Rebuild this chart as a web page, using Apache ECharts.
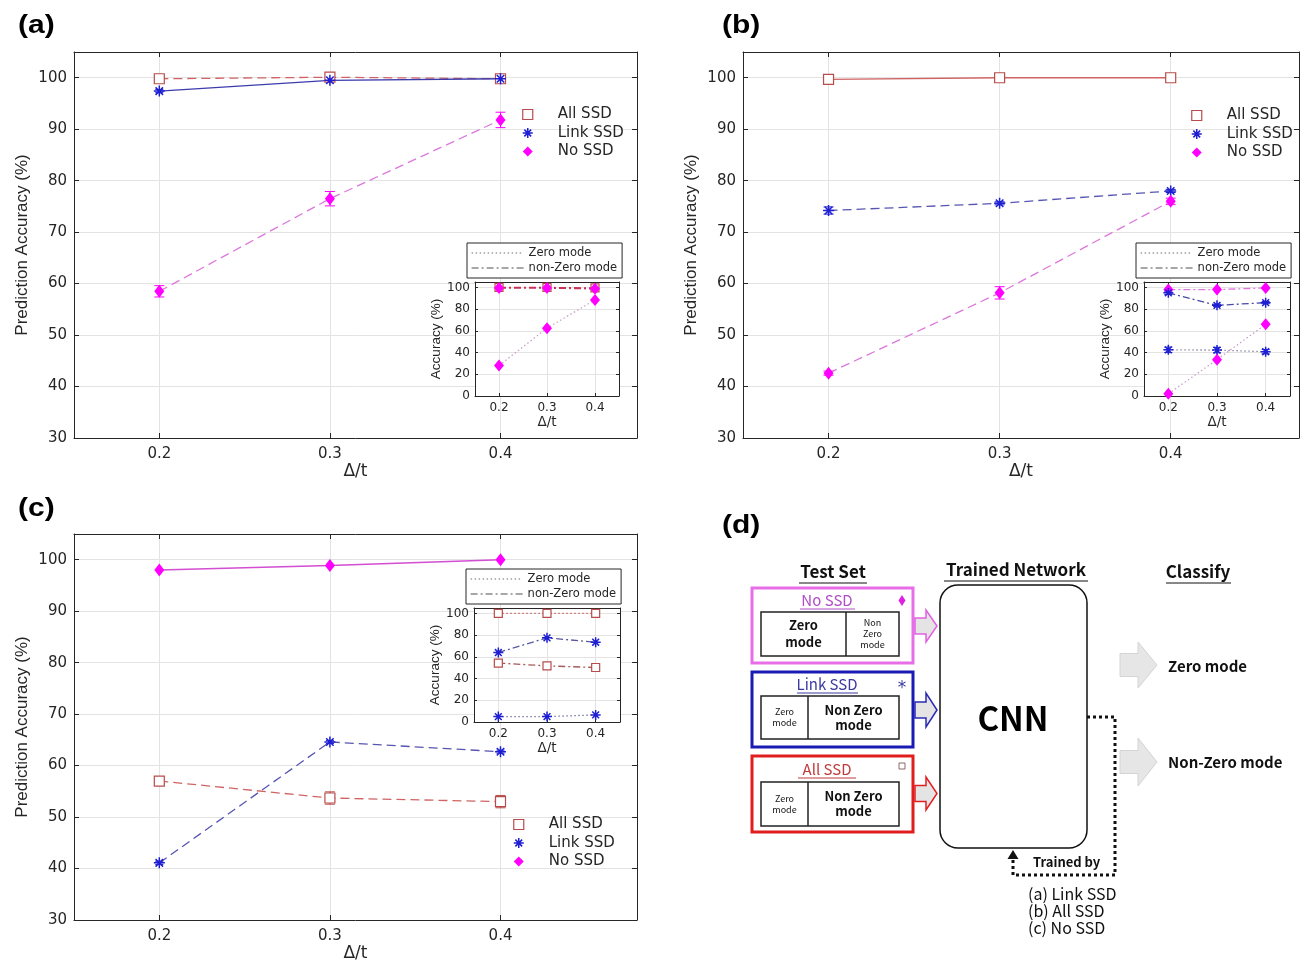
<!DOCTYPE html>
<html><head><meta charset="utf-8">
<script src="https://cdn.jsdelivr.net/npm/echarts@6/dist/echarts.min.js"></script>
<style>html,body{margin:0;padding:0;background:#fff}#chart{width:1314px;height:965px}</style>
</head><body><div id="chart"></div>
<script>
// ---------------- data ----------------
const xValues = [0.2, 0.3, 0.4];
const xTickLabels = ['0.2', '0.3', '0.4'];
const seriesNames = ['All SSD', 'Link SSD', 'No SSD'];
const insetLegendNames = ['Zero mode', 'non-Zero mode'];

// (a) trained by Link SSD
const aAllSSD = [99.8, 100.1, 99.8];
const aAllSSDErr = [0.2, 0.2, 0.2];
const aLinkSSD = [97.4, 99.5, 99.8];
const aLinkSSDErr = [0.3, 0.3, 0.2];
const aNoSSD = [58.5, 76.5, 91.8];
const aNoSSDErr = [1.1, 1.4, 1.5];
const aInAllNonZero = [100, 100, 99.5];
const aInNoSSDNonZero = [99.5, 99.5, 98.8];
const aInNoSSDZero = [28, 62.5, 88.5];

// (b) trained by All SSD
const bAllSSD = [99.7, 100, 100];
const bAllSSDErr = [0.2, 0.2, 0.2];
const bLinkSSD = [74.2, 75.6, 78.0];
const bLinkSSDErr = [0.7, 0.3, 0.3];
const bNoSSD = [42.6, 58.2, 76.0];
const bNoSSDErr = [0.4, 1.2, 0.6];
const bInNoSSDNonZero = [98, 98, 99.5];
const bInLinkNonZero = [95, 83.5, 86];
const bInLinkNonZeroErr = [1.5, 1.0, 1.0];
const bInLinkZero = [42.5, 42.3, 40.8];
const bInLinkZeroErr = [2.5, 2.5, 2.0];
const bInNoSSDZero = [2, 33.5, 66];

// (c) trained by No SSD
const cAllSSD = [57.0, 53.7, 53.0];
const cAllSSDErr = [0.5, 1.2, 1.2];
const cLinkSSD = [41.1, 64.6, 62.7];
const cLinkSSDErr = [0.3, 0.3, 0.3];
const cNoSSD = [98.0, 98.9, 100];
const cInAllZero = [100, 100, 100];
const cInLinkNonZero = [64, 77.5, 73.5];
const cInAllNonZero = [54.3, 51.7, 50.2];
const cInAllNonZeroErr = [1.5, 1.5, 1.5];
const cInLinkZero = [5, 5, 6.5];

// ---------------- styles ----------------
const FONT = 'DejaVu Sans, Liberation Sans, Arial, sans-serif';
const FONT_V = 'Liberation Sans, Arial, sans-serif';
const DIAG = '"Noto Sans CJK KR", "Noto Sans", sans-serif';
const INK = '#262626';
const RED = '#b84c4c', RED_LINE = '#d06464';
const BLUE = '#1e1ed2', BLUE_LINE_SOLID = '#3c3cae', BLUE_LINE = '#5656b2';
const MAG = '#ff00ff', MAG_LINE = '#dc78dc', MAG_LINE_SOLID = '#d24ed2';
const DASH = [9, 5], DOT = [1.5, 2.5], DASHDOT = [7, 3, 2, 3];
const ASTER = 'path://M0 5L10 5M5 0L5 10M1.6 1.6L8.4 8.4M8.4 1.6L1.6 8.4';

const sq = (c) => ({ color: '#fff', borderColor: c, borderWidth: 1.2 });
const ast = (c) => ({ color: c, borderColor: c, borderWidth: 1.5 });
const dia = (c) => ({ color: c, borderWidth: 0 });

const grids = [], xAxes = [], yAxes = [], series = [], legends = [];

function addAxes(rect, cfg) {
  const gi = grids.length;
  const z = cfg.z || 0;
  grids.push({ left: rect[0], top: rect[1], width: rect[2], height: rect[3], containLabel: false,
    outerBoundsMode: 'none', show: true, backgroundColor: '#fff', borderWidth: 0, z: z });
  const lc = { color: INK, width: 1 };
  const xi = xAxes.length;
  xAxes.push({
    type: 'value', gridIndex: gi, min: cfg.xmin, max: cfg.xmax, position: 'bottom', z: z,
    axisLine: { show: true, onZero: false, lineStyle: lc },
    axisTick: { show: true, inside: true, length: cfg.tickLen, customValues: xValues, lineStyle: lc },
    axisLabel: { show: true, customValues: xValues, margin: cfg.xLabelMargin, color: INK, fontSize: cfg.tickFont,
      fontFamily: FONT, formatter: v => { const i = xValues.indexOf(v); return i >= 0 ? xTickLabels[i] : v.toFixed(1); } },
    splitLine: { show: true, lineStyle: { color: '#e3e3e3', width: 1 } },
    name: 'Δ/t', nameLocation: 'middle', nameGap: cfg.xNameGap,
    nameTextStyle: { color: INK, fontSize: cfg.xNameFont, fontFamily: FONT }
  });
  xAxes.push({
    type: 'value', gridIndex: gi, min: cfg.xmin, max: cfg.xmax, position: 'top', z: z,
    axisLine: { show: true, onZero: false, lineStyle: lc },
    axisTick: { show: true, inside: true, length: cfg.tickLen, customValues: xValues, lineStyle: lc },
    axisLabel: { show: false }, splitLine: { show: false }
  });
  const yi = yAxes.length;
  yAxes.push({
    type: 'value', gridIndex: gi, min: cfg.ymin, max: cfg.ymax, interval: cfg.yint, position: 'left', z: z,
    axisLine: { show: true, onZero: false, lineStyle: lc },
    axisTick: { show: true, inside: true, length: cfg.tickLen, lineStyle: lc },
    axisLabel: { show: true, showMaxLabel: false, margin: cfg.yLabelMargin, color: INK, fontSize: cfg.tickFont, fontFamily: FONT },
    splitLine: { show: true, lineStyle: { color: '#e3e3e3', width: 1 } },
    name: cfg.yName, nameLocation: 'middle', nameRotate: 90, nameGap: cfg.yNameGap,
    nameTextStyle: { color: INK, fontSize: cfg.yNameFont, fontFamily: FONT_V }
  });
  yAxes.push({
    type: 'value', gridIndex: gi, min: cfg.ymin, max: cfg.ymax, interval: cfg.yint, position: 'right', z: z,
    axisLine: { show: true, onZero: false, lineStyle: lc },
    axisTick: { show: true, inside: true, length: cfg.tickLen, lineStyle: lc },
    axisLabel: { show: false }, splitLine: { show: false }
  });
  return { x: xi, y: yi };
}

function line(ax, name, vals, o) {
  series.push({
    type: 'line', name: name, xAxisIndex: ax.x, yAxisIndex: ax.y,
    data: xValues.map((x, i) => [x, vals[i]]),
    symbol: o.symbol, symbolSize: o.size, symbolKeepAspect: false, showSymbol: true, z: o.z || 2,
    lineStyle: { color: o.lineColor, width: o.lineWidth || 1.3, type: o.dash || 'solid' },
    itemStyle: o.itemStyle, emphasis: { disabled: true }, silent: true
  });
}

function errBars(ax, vals, errs, color, cap, z) {
  series.push({
    type: 'custom', xAxisIndex: ax.x, yAxisIndex: ax.y, z: z || 2, silent: true,
    data: xValues.map((x, i) => [x, vals[i] - errs[i], vals[i] + errs[i]]),
    encode: { x: 0, y: [1, 2] },
    renderItem: function (params, api) {
      const x = api.value(0);
      const lo = api.coord([x, api.value(1)]), hi = api.coord([x, api.value(2)]);
      const st = { stroke: color, lineWidth: 1 };
      return { type: 'group', children: [
        { type: 'line', shape: { x1: lo[0], y1: lo[1], x2: hi[0], y2: hi[1] }, style: st },
        { type: 'line', shape: { x1: lo[0] - cap, y1: lo[1], x2: lo[0] + cap, y2: lo[1] }, style: st },
        { type: 'line', shape: { x1: hi[0] - cap, y1: hi[1], x2: hi[0] + cap, y2: hi[1] }, style: st }
      ] };
    }
  });
}

function dummies(ax) {
  insetLegendNames.forEach(n => series.push({ type: 'line', name: n, xAxisIndex: ax.x, yAxisIndex: ax.y,
    data: [], symbol: 'none', lineStyle: { color: '#666', width: 1.2, type: n === 'Zero mode' ? DOT : DASHDOT } }));
}

function mainLegend(left, top) {
  legends.push({
    left: left, top: top, orient: 'vertical', itemGap: 3.5, itemWidth: 10, itemHeight: 10, selectedMode: false,
    padding: 0,
    textStyle: { fontFamily: FONT, fontSize: 15, color: INK, padding: [0, 0, 0, 20], lineHeight: 15 },
    data: [
      { name: seriesNames[0], icon: 'rect', itemStyle: sq(RED) },
      { name: seriesNames[1], icon: ASTER, itemStyle: ast(BLUE) },
      { name: seriesNames[2], icon: 'diamond', itemStyle: dia(MAG) }
    ]
  });
}

function insetLegend(left, top) {
  legends.push({
    left: left, top: top, orient: 'vertical', itemGap: 3, itemWidth: 52, itemHeight: 8, selectedMode: false, z: 8,
    backgroundColor: '#fff', borderColor: INK, borderWidth: 1, padding: [4, 5, 4, 4],
    textStyle: { fontFamily: FONT, fontSize: 11.5, color: INK },
    itemStyle: { opacity: 0, color: 'rgba(0,0,0,0)', borderWidth: 0 },
    data: [
      { name: insetLegendNames[0], lineStyle: { color: '#707070', width: 1.2, type: DOT } },
      { name: insetLegendNames[1], lineStyle: { color: '#505050', width: 1.2, type: DASHDOT } }
    ]
  });
}

const mainCfg = { xmin: 0.15, xmax: 0.48, ymin: 30, ymax: 105, yint: 10, tickLen: 5, tickFont: 15,
  xLabelMargin: 9, xNameGap: 25, xNameFont: 17, yName: 'Prediction Accuracy (%)', yNameGap: 43,
  yNameFont: 17, yLabelMargin: 7, z: 0 };
const insetCfg = { xmin: 0.15, xmax: 0.45, ymin: 0, ymax: 105, yint: 20, tickLen: 3, tickFont: 12,
  xLabelMargin: 6, xNameGap: 19, xNameFont: 13.5, yName: 'Accuracy (%)', yNameGap: 31,
  yNameFont: 13.5, yLabelMargin: 5, z: 3 };

// ---------- panel (a) ----------
const axA = addAxes([74, 52, 563, 386], mainCfg);
errBars(axA, aAllSSD, aAllSSDErr, RED, 4);
errBars(axA, aLinkSSD, aLinkSSDErr, BLUE, 4);
errBars(axA, aNoSSD, aNoSSDErr, MAG, 5);
line(axA, seriesNames[0], aAllSSD, { symbol: 'rect', size: 10, lineColor: RED_LINE, dash: DASH, itemStyle: sq(RED) });
line(axA, seriesNames[1], aLinkSSD, { symbol: ASTER, size: 11, lineColor: BLUE_LINE_SOLID, itemStyle: ast(BLUE) });
line(axA, seriesNames[2], aNoSSD, { symbol: 'diamond', size: [10, 13], lineColor: MAG_LINE, dash: DASH, itemStyle: dia(MAG) });
mainLegend(522, 107);

const axAi = addAxes([475, 282, 144, 114], insetCfg);
dummies(axAi);
line(axAi, seriesNames[0], aInAllNonZero, { symbol: 'rect', size: 8, lineColor: '#c8325a', dash: DASHDOT, itemStyle: sq(RED), z: 5 });
line(axAi, seriesNames[2], aInNoSSDZero, { symbol: 'diamond', size: [10, 12], lineColor: '#c8a0c8', dash: DOT, itemStyle: dia(MAG), z: 5 });
line(axAi, seriesNames[2], aInNoSSDNonZero, { symbol: 'diamond', size: [10, 12], lineColor: '#c8325a', dash: DASHDOT, lineWidth: 1.6, itemStyle: dia(MAG), z: 5 });
insetLegend(467, 243);

// ---------- panel (b) ----------
const axB = addAxes([743, 52, 556, 386], Object.assign({}, mainCfg, { xmax: 0.475 }));
errBars(axB, bAllSSD, bAllSSDErr, RED, 4);
errBars(axB, bLinkSSD, bLinkSSDErr, BLUE, 5);
errBars(axB, bNoSSD, bNoSSDErr, MAG, 5);
line(axB, seriesNames[0], bAllSSD, { symbol: 'rect', size: 10, lineColor: RED_LINE, itemStyle: sq(RED) });
line(axB, seriesNames[1], bLinkSSD, { symbol: ASTER, size: 11, lineColor: BLUE_LINE, dash: DASH, itemStyle: ast(BLUE) });
line(axB, seriesNames[2], bNoSSD, { symbol: 'diamond', size: [10, 13], lineColor: MAG_LINE, dash: DASH, itemStyle: dia(MAG) });
mainLegend(1191, 108);

const axBi = addAxes([1144, 282, 146, 114], insetCfg);
dummies(axBi);
errBars(axBi, bInLinkZero, bInLinkZeroErr, BLUE, 4, 5);
errBars(axBi, bInLinkNonZero, bInLinkNonZeroErr, BLUE, 4, 5);
line(axBi, seriesNames[2], bInNoSSDNonZero, { symbol: 'diamond', size: [10, 12], lineColor: '#e078d8', dash: DASHDOT, itemStyle: dia(MAG), z: 5 });
line(axBi, seriesNames[1], bInLinkNonZero, { symbol: ASTER, size: 10, lineColor: '#4848a8', dash: DASHDOT, itemStyle: ast(BLUE), z: 5 });
line(axBi, seriesNames[1], bInLinkZero, { symbol: ASTER, size: 10, lineColor: '#8a8aa8', dash: DOT, itemStyle: ast(BLUE), z: 5 });
line(axBi, seriesNames[2], bInNoSSDZero, { symbol: 'diamond', size: [10, 12], lineColor: '#c8a0c8', dash: DOT, itemStyle: dia(MAG), z: 5 });
insetLegend(1136, 243);

// ---------- panel (c) ----------
const axC = addAxes([74, 534, 563, 386], mainCfg);
errBars(axC, cAllSSD, cAllSSDErr, RED, 5);
errBars(axC, cLinkSSD, cLinkSSDErr, BLUE, 4);
line(axC, seriesNames[0], cAllSSD, { symbol: 'rect', size: 10, lineColor: RED_LINE, dash: DASH, itemStyle: sq(RED) });
line(axC, seriesNames[1], cLinkSSD, { symbol: ASTER, size: 11, lineColor: BLUE_LINE, dash: DASH, itemStyle: ast(BLUE) });
line(axC, seriesNames[2], cNoSSD, { symbol: 'diamond', size: [10, 13], lineColor: MAG_LINE_SOLID, lineWidth: 1.5, itemStyle: dia(MAG) });
mainLegend(513, 817);

const axCi = addAxes([474, 608, 146, 114], insetCfg);
dummies(axCi);
errBars(axCi, cInAllNonZero, cInAllNonZeroErr, RED, 4, 5);
line(axCi, seriesNames[0], cInAllZero, { symbol: 'rect', size: 8, lineColor: '#c86464', dash: DOT, itemStyle: sq(RED), z: 5 });
line(axCi, seriesNames[1], cInLinkNonZero, { symbol: ASTER, size: 10, lineColor: '#5858a0', dash: DASHDOT, itemStyle: ast(BLUE), z: 5 });
line(axCi, seriesNames[0], cInAllNonZero, { symbol: 'rect', size: 8, lineColor: '#a85a5a', dash: DASHDOT, itemStyle: sq(RED), z: 5 });
line(axCi, seriesNames[1], cInLinkZero, { symbol: ASTER, size: 10, lineColor: '#7878a0', dash: DOT, itemStyle: ast(BLUE), z: 5 });
insetLegend(466, 569);

// ---------------- graphics: panel labels + diagram (d) ----------------
function txt(x, y, text, font, fill, align, extra, sx) {
  return { type: 'text', x: x, y: y, silent: true, z: 10, scaleX: sx || 1,
    style: Object.assign({ text: text, font: font, fill: fill || '#111', align: align || 'center', verticalAlign: 'middle' }, extra || {}) };
}
function rect(x, y, w, h, stroke, lw, r) {
  return { type: 'rect', silent: true, z: 9, shape: { x: x, y: y, width: w, height: h, r: r || 0 },
    style: { fill: '#fff', stroke: stroke, lineWidth: lw } };
}
function ln(x1, y1, x2, y2, stroke, lw, dash) {
  return { type: 'line', silent: true, z: 10, shape: { x1: x1, y1: y1, x2: x2, y2: y2 },
    style: { stroke: stroke, lineWidth: lw || 1, lineDash: dash || null } };
}
function poly(points, fill, stroke, lw) {
  return { type: 'polygon', silent: true, z: 10, shape: { points: points }, style: { fill: fill, stroke: stroke || null, lineWidth: lw || 0 } };
}
function blockArrow(x0, xm, x1, yc, bodyH, headH, fill, stroke, lw) {
  return poly([[x0, yc - bodyH / 2], [xm, yc - bodyH / 2], [xm, yc - headH / 2], [x1, yc],
    [xm, yc + headH / 2], [xm, yc + bodyH / 2], [x0, yc + bodyH / 2]], fill, stroke, lw);
}

const B = 'bold ', PL = 'bold 25px Liberation Sans, Arial, sans-serif';
const graphics = [
  txt(18, 26, '(a)', PL, '#000', 'left', null, 1.2),
  txt(722, 26, '(b)', PL, '#000', 'left', null, 1.2),
  txt(18, 509, '(c)', PL, '#000', 'left', null, 1.2),
  txt(722, 526, '(d)', PL, '#000', 'left', null, 1.2),

  // titles
  txt(833, 572, 'Test Set', B + '17px ' + DIAG, '#111'),
  ln(799, 583, 867, 583, '#111', 1),
  txt(1016, 570, 'Trained Network', B + '17px ' + DIAG, '#111'),
  ln(944, 581, 1088, 581, '#111', 1),
  txt(1198, 572, 'Classify', B + '17px ' + DIAG, '#111'),
  ln(1166, 583, 1231, 583, '#111', 1),

  // No SSD box
  rect(752, 588, 161, 75, '#e86ee8', 3),
  txt(827, 600, 'No SSD', '15px ' + DIAG, '#b04cc8'),
  ln(800, 609, 855, 609, '#b04cc8', 1),
  poly([[902, 595], [905.5, 600.5], [902, 606], [898.5, 600.5]], '#e020e0'),
  rect(761, 612, 138, 44, '#222', 1.5),
  ln(846, 612, 846, 656, '#222', 1.5),
  txt(803.5, 634, 'Zero\nmode', B + '13px ' + DIAG, '#111', 'center', { lineHeight: 17 }),
  txt(872.5, 634, 'Non\nZero\nmode', '9px ' + DIAG, '#111', 'center', { lineHeight: 11 }),
  blockArrow(915, 926, 937, 626, 16, 32, '#e4e4e4', '#e060e0', 1.5),

  // Link SSD box
  rect(752, 672, 161, 75, '#1a1ab4', 3),
  txt(827, 684, 'Link SSD', '15px ' + DIAG, '#3a3aa0'),
  ln(797, 693, 858, 693, '#3a3aa0', 1),
  txt(902, 689, '*', '17px DejaVu Sans, sans-serif', '#3838a0'),
  rect(761, 696, 138, 43, '#222', 1.5),
  ln(808, 696, 808, 739, '#222', 1.5),
  txt(784.5, 717.5, 'Zero\nmode', '9px ' + DIAG, '#111', 'center', { lineHeight: 11 }),
  txt(853.5, 717.5, 'Non Zero\nmode', B + '13px ' + DIAG, '#111', 'center', { lineHeight: 15 }),
  blockArrow(915, 926, 937, 710, 16, 34, '#e4e4e4', '#2a2ab8', 1.5),

  // All SSD box
  rect(752, 756, 161, 76, '#e01e1e', 3),
  txt(827, 769, 'All SSD', '15px ' + DIAG, '#c03a3a'),
  ln(798, 778, 856, 778, '#c03a3a', 1),
  { type: 'rect', silent: true, z: 10, shape: { x: 899, y: 763, width: 6, height: 6 }, style: { fill: 'none', stroke: '#8a6a6a', lineWidth: 1 } },
  rect(761, 782, 138, 44, '#222', 1.5),
  ln(808, 782, 808, 826, '#222', 1.5),
  txt(784.5, 804, 'Zero\nmode', '9px ' + DIAG, '#111', 'center', { lineHeight: 11 }),
  txt(853.5, 804, 'Non Zero\nmode', B + '13px ' + DIAG, '#111', 'center', { lineHeight: 15 }),
  blockArrow(915, 926, 937, 793.5, 16, 33, '#e4e4e4', '#e02020', 1.5),

  // CNN
  rect(940, 585, 147, 263, '#111', 1.5, 18),
  txt(1013, 718, 'CNN', B + '33px ' + DIAG, '#000'),
  { type: 'polyline', silent: true, z: 10, shape: { points: [[1087, 717], [1115, 717], [1115, 875], [1013, 875], [1013, 857]] },
    style: { stroke: '#111', lineWidth: 3, lineDash: [3, 3], fill: null } },
  poly([[1007.5, 859], [1018.5, 859], [1013, 850]], '#111'),
  txt(1033, 862, 'Trained by', B + '13px ' + DIAG, '#111', 'left'),
  txt(1028, 894, '(a) Link SSD', '16px ' + DIAG, '#111', 'left'),
  txt(1028, 911, '(b) All SSD', '16px ' + DIAG, '#111', 'left'),
  txt(1028, 928, '(c) No SSD', '16px ' + DIAG, '#111', 'left'),

  // Classify arrows
  blockArrow(1120, 1138, 1157, 665, 23, 46, '#e6e6e6', '#d4d4d4', 1),
  txt(1168, 666, 'Zero mode', B + '15px ' + DIAG, '#111', 'left'),
  blockArrow(1120, 1138, 1157, 762, 23, 48, '#e6e6e6', '#d4d4d4', 1),
  txt(1168, 762, 'Non-Zero mode', B + '15px ' + DIAG, '#111', 'left')
];

const chart = echarts.init(document.getElementById('chart'), null, { renderer: 'canvas' });
chart.setOption({
  backgroundColor: '#fff',
  animation: false,
  textStyle: { fontFamily: FONT },
  grid: grids, xAxis: xAxes, yAxis: yAxes,
  legend: legends, series: series, graphic: graphics
});
</script></body></html>
